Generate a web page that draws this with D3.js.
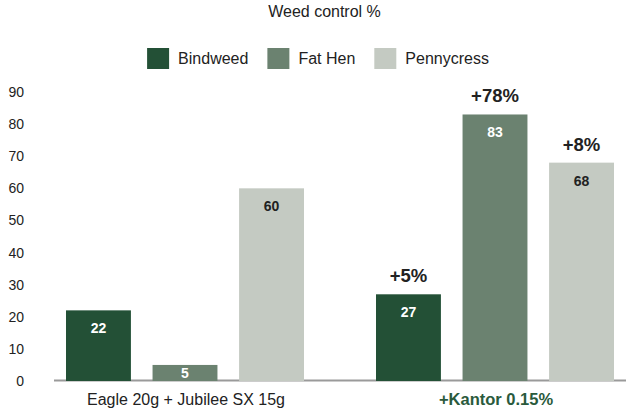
<!DOCTYPE html>
<html>
<head>
<meta charset="utf-8">
<script src="https://cdn.jsdelivr.net/npm/d3@7"></script>
<style>
  html, body { margin: 0; padding: 0; background: #fff; }
  svg { display: block; font-family: "Liberation Sans", Arial, Helvetica, sans-serif; }
</style>
</head>
<body>
<svg id="chart" width="626" height="411"></svg>
<script>
const groups = ["Eagle 20g + Jubilee SX 15g", "+Kantor 0.15%"];
const seriesNames = ["Bindweed", "Fat Hen", "Pennycress"];
const bindweed = [22, 27];
const fatHen = [5, 83];
const pennycress = [60, 68];
const increases = [null, ["+5%", "+78%", "+8%"]];
const yTicks = [0, 10, 20, 30, 40, 50, 60, 70, 80, 90];
const colors = ["#235036", "#6b8270", "#c4cac2"];
const labelColors = ["#ffffff", "#ffffff", "#222222"];
const title = "Weed control %";

const seriesValues = [bindweed, fatHen, pennycress];

const svg = d3.select("#chart");

const x0 = d3.scaleBand().domain(groups).range([30, 650]).padding(0);
const x1 = d3.scaleBand().domain(seriesNames).range([36, 274]).paddingInner(0.25).paddingOuter(0);
const y = d3.scaleLinear().domain([0, 90]).range([381, 92]);
const color = d3.scaleOrdinal().domain(seriesNames).range(colors);

// title
svg.append("text")
  .attr("x", 324.5).attr("y", 17)
  .attr("text-anchor", "middle")
  .attr("font-size", 16)
  .attr("fill", "#222")
  .text(title);

// legend
const legend = svg.append("g");
let lx = 0;
seriesNames.forEach((name, i) => {
  const g = legend.append("g").attr("transform", `translate(${lx},0)`);
  g.append("rect").attr("x", 0).attr("y", 48).attr("width", 22).attr("height", 21).attr("fill", color(name));
  const t = g.append("text").attr("x", 31).attr("y", 63.5).attr("font-size", 16).attr("fill", "#222").text(name);
  const w = t.node().getComputedTextLength();
  lx += 31 + w + 19;
});
const legendWidth = lx - 19;
legend.attr("transform", `translate(${318 - legendWidth / 2},0)`);

// y axis tick labels
const yAxis = d3.axisLeft(y).tickValues(yTicks).tickSize(0).tickPadding(0);
const yg = svg.append("g").attr("transform", "translate(24,0)").call(yAxis);
yg.select(".domain").remove();
yg.selectAll("text").attr("font-size", 14).attr("fill", "#222").attr("font-family", "Liberation Sans, Arial, sans-serif");

// baseline
svg.append("line")
  .attr("x1", 54).attr("x2", 626)
  .attr("y1", 380.5).attr("y2", 380.5)
  .attr("stroke", "#9a9a9a").attr("stroke-width", 2);

// bars
groups.forEach((grp, gi) => {
  const gx = x0(grp);
  seriesNames.forEach((name, si) => {
    const v = seriesValues[si][gi];
    const bx = gx + x1(name);
    const bw = x1.bandwidth();
    svg.append("rect")
      .attr("x", bx).attr("y", y(v))
      .attr("width", bw).attr("height", y(0) - y(v))
      .attr("fill", color(name));
    const ly = Math.min(y(v) + 23, y(0) - 3);
    svg.append("text")
      .attr("x", bx + bw / 2).attr("y", ly)
      .attr("text-anchor", "middle")
      .attr("font-size", 14).attr("font-weight", "bold")
      .attr("fill", labelColors[si])
      .text(v);
    if (increases[gi]) {
      svg.append("text")
        .attr("x", bx + bw / 2).attr("y", y(v) - 12)
        .attr("text-anchor", "middle")
        .attr("font-size", 18.5).attr("font-weight", "bold")
        .attr("fill", "#222")
        .text(increases[gi][si]);
    }
  });
});

// category labels
groups.forEach((grp, gi) => {
  svg.append("text")
    .attr("x", x0(grp) + x0.bandwidth() / 2 + 1)
    .attr("y", 405)
    .attr("text-anchor", "middle")
    .attr("font-size", gi === 1 ? 16.5 : 16)
    .attr("font-weight", gi === 1 ? "bold" : "normal")
    .attr("fill", gi === 1 ? "#2a5a3c" : "#222")
    .text(grp);
});
</script>
</body>
</html>
